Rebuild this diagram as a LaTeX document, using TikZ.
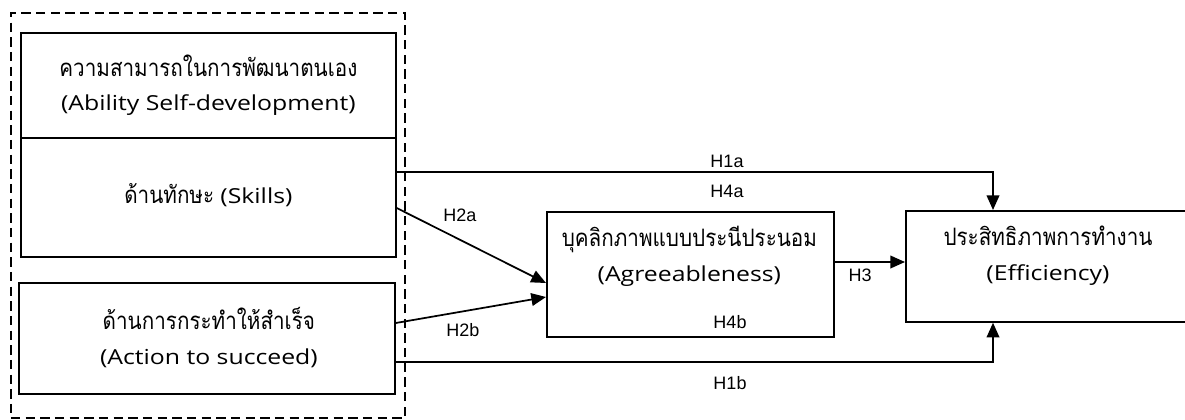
\documentclass[tikz,border=0pt]{standalone}
\usepackage{fontspec}
\setmainfont{Liberation Sans}
\newfontfamily\thaifont[Script=Thai,FakeStretch=0.86]{Loma}
\newfontfamily\latfont[FakeStretch=1.2]{Open Sans}
\usetikzlibrary{arrows.meta,calc}
\newlength{\px}\setlength{\px}{0.75pt}
\newcommand{\thtxt}[1]{{\thaifont\fontsize{18}{26}\selectfont #1}}
\newcommand{\latxt}[1]{{\latfont\fontsize{15.5}{26}\selectfont #1}}
\tikzset{
  box/.style={draw, line width=1.3pt, inner sep=0pt, anchor=north west},
  boxtext/.style={font=\fontsize{17}{26}\selectfont, align=center},
  hlabel/.style={font=\fontsize{13.5}{15}\selectfont},
  conn/.style={line width=1.3pt},
  arr/.style={conn, -{Triangle[length=11pt,width=9.5pt]}},
  group/.style={draw, dash pattern=on 7pt off 4pt, line width=1.3pt, inner sep=0pt, anchor=north west},
}
\begin{document}
\begin{tikzpicture}[x=0.75pt,y=-0.75pt]
\useasboundingbox (0,0) rectangle (1185,419);
\begin{scope}
\clip (0,0) rectangle (1185,419);
\node[group, minimum width=394\px, minimum height=405\px] (grp) at (10,12) {};
\node[box, minimum width=375\px, minimum height=105\px] (abil) at (20,32) {};
\node[boxtext] (abilt) at ($(abil.center)+(0,0)$) {\thtxt{ความสามารถในการพัฒนาตนเอง}\\\latxt{(Ability Self-development)}};
\node[box, minimum width=375\px, minimum height=119\px] (skill) at (20,137) {};
\node[boxtext] (skillt) at ($(skill.center)+(0,-2)$) {\thtxt{ด้านทักษะ} \latxt{(Skills)}};
\node[box, minimum width=376\px, minimum height=111\px] (act) at (18,282) {};
\node[boxtext] (actt) at ($(act.center)+(2,-1)$) {\thtxt{ด้านการกระทำให้สำเร็จ}\\\latxt{(Action to succeed)}};
\node[box, minimum width=287\px, minimum height=125\px] (agr) at (546,211) {};
\node[boxtext] (agrt) at ($(agr.center)+(-1,-18)$) {\thtxt{บุคลิกภาพแบบประนีประนอม}\\\latxt{(Agreeableness)}};
\node[box, minimum width=290\px, minimum height=111\px] (eff) at (905,210) {};
\node[boxtext] (efft) at (1048,256) {\thtxt{ประสิทธิภาพการทำงาน}\\\latxt{(Efficiency)}};
\end{scope}
% connectors
\draw[arr] ($(skill.north east)+(0,35)$) -| ($(eff.north west)+(88,0)$);
\draw[arr] ($(skill.north east)+(0,71)$) -- ($(agr.north west)+(0,72)$);
\draw[arr] ($(act.north east)+(0,41)$) -- ($(agr.north west)+(0,86)$);
\draw[arr] ($(agr.north east)+(0,51)$) -- ($(eff.north west)+(0,52)$);
\draw[arr] ($(act.north east)+(0,80)$) -| ($(eff.south west)+(88,0)$);
% labels
\node[hlabel] (h1a) at (727,161) {H1a};
\node[hlabel] (h4a) at (727,191) {H4a};
\node[hlabel] (h2a) at (460,215) {H2a};
\node[hlabel] (h2b) at (463,330) {H2b};
\node[hlabel] (h4b) at (730,322) {H4b};
\node[hlabel] (h3) at (860,275) {H3};
\node[hlabel] (h1b) at (730,383) {H1b};
\end{tikzpicture}
\end{document}
